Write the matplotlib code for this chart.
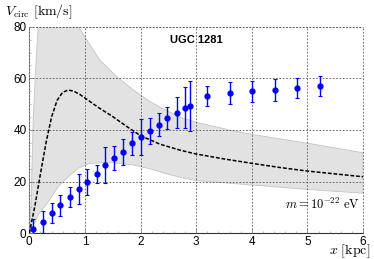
import numpy as np
import matplotlib
matplotlib.use('Agg')
import matplotlib.pyplot as plt
from matplotlib.ticker import MultipleLocator

plt.rcParams['font.family'] = ['Liberation Sans', 'DejaVu Sans']
plt.rcParams['mathtext.fontset'] = 'cm'

#------------------------------data------------------------------
# rotation curve points (kpc, km/s)
r_obs = [0.07, 0.24, 0.40, 0.56, 0.73, 0.89, 1.04, 1.21, 1.36, 1.53, 1.68, 1.84, 2.00,
         2.17, 2.33, 2.48, 2.65, 2.80, 2.89, 3.20, 3.61, 4.01, 4.42, 4.82, 5.23]
v_obs = [1.5, 4.3, 7.8, 10.9, 14.1, 17.2, 20.0, 23.1, 26.5, 29.2, 31.5, 34.8, 37.3,
         39.6, 42.0, 44.6, 46.7, 48.6, 49.3, 53.1, 54.2, 55.0, 55.5, 56.3, 57.0]
v_err = [4.0, 4.2, 4.0, 4.1, 3.9, 5.8, 5.0, 3.5, 7.0, 4.6, 5.0, 4.5, 7.0,
         5.0, 4.4, 4.4, 6.0, 8.0, 9.8, 4.0, 4.2, 4.1, 4.3, 3.9, 4.0]

# soliton curve (dashed)
r_sol = [0.0, 0.1, 0.2, 0.3, 0.4, 0.5, 0.6, 0.7, 0.8, 0.9, 1.0, 1.25, 1.5, 1.75, 2.0,
         2.35, 2.71, 3.0, 3.5, 4.0, 4.5, 5.0, 5.5, 6.0]
v_sol = [0.0, 10.5, 23.0, 35.0, 45.0, 51.5, 54.6, 55.5, 55.0, 53.9, 52.4, 48.6, 45.2,
         41.4, 37.8, 34.5, 32.2, 30.7, 28.8, 27.1, 25.5, 24.1, 23.0, 21.9]

# shaded band edges
r_up = [0.0, 0.03, 0.07, 0.13, 0.16, 0.25, 0.5, 0.75, 0.88, 1.0, 1.27, 1.57, 1.87,
        2.17, 2.47, 2.71, 3.0, 3.6, 4.0, 5.0, 6.0]
v_up = [0.0, 10.0, 44.0, 70.0, 80.0, 95.0, 110.0, 95.0, 80.0, 76.0, 67.0, 60.7, 55.5,
        51.0, 47.5, 45.0, 43.0, 40.0, 38.3, 34.9, 31.2]
r_lo = [0.0, 0.03, 0.16, 0.34, 0.52, 0.70, 0.88, 1.06, 1.3, 1.5, 1.87, 2.2, 2.47,
        2.71, 3.0, 4.0, 5.0, 6.0]
v_lo = [0.0, 1.0, 7.0, 12.2, 18.1, 21.9, 25.2, 26.9, 27.4, 27.3, 26.5, 24.8, 23.0,
        21.7, 20.4, 18.7, 17.0, 15.5]

#------------------------------plot------------------------------
DPI = 100
fig = plt.figure(figsize=(374/DPI, 259/DPI), dpi=DPI)
ax = fig.add_axes([29.3/374, 1 - 233.3/259, (363 - 29.3)/374, (233.3 - 26.7)/259])

band_x = np.concatenate([r_up, r_lo[::-1]])
band_y = np.concatenate([v_up, v_lo[::-1]])
ax.fill(band_x, band_y, facecolor='#e2e2e2', edgecolor='#c4c4c4', lw=0.6, zorder=1)

ax.plot(r_sol, v_sol, ls=(0, (2.5, 1.2)), color='black', lw=1.1, zorder=3)

ax.errorbar(r_obs, v_obs, yerr=v_err, fmt='o', color='#0000ff', ms=3.5,
            elinewidth=1.0, capsize=1.3, capthick=0.8, zorder=4)

ax.set_xlim(0, 6)
ax.set_ylim(0, 80)
ax.xaxis.set_major_locator(MultipleLocator(1))
ax.yaxis.set_major_locator(MultipleLocator(20))
ax.xaxis.set_minor_locator(MultipleLocator(0.2))
ax.yaxis.set_minor_locator(MultipleLocator(5))
ax.tick_params(which='both', direction='in', color='#888888', labelsize=8.5)
ax.tick_params(which='major', length=3, width=0.6, pad=2)
ax.tick_params(which='minor', length=1.5, width=0.4)
ax.tick_params(axis='x', top=False)

ax.grid(True, which='major', ls=(0, (2, 2)), color='#555555', lw=0.6, zorder=2)
ax.set_axisbelow(False)
for s in ['top', 'right']:
    ax.spines[s].set_visible(False)
ax.spines['left'].set_color('#999999')
ax.spines['left'].set_linewidth(0.8)
ax.spines['bottom'].set_color('#333333')
ax.spines['bottom'].set_linewidth(0.8)
# dashed frame at the top and right, like the grid
ax.axhline(80, ls=(0, (2, 2)), color='#555555', lw=0.6, clip_on=False)
ax.axvline(6, ls=(0, (2, 2)), color='#555555', lw=0.6, clip_on=False)

ax.text(3.0, 74.8, 'UGC 1281', ha='center', va='center', fontsize=8, fontweight='bold')
ax.text(5.95, 11.3, r'$m = 10^{-22}\ \mathrm{eV}$', ha='right', va='center', fontsize=9)

fig.text(5/374, 1 - 12/259, r'$V_{\rm circ}\ [\mathrm{km/s}]$', ha='left', va='center', fontsize=10)
fig.text(370/374, 1 - 251/259, r'$x\ [\mathrm{kpc}]$', ha='right', va='center', fontsize=10)

plt.savefig('out.png', dpi=DPI)
